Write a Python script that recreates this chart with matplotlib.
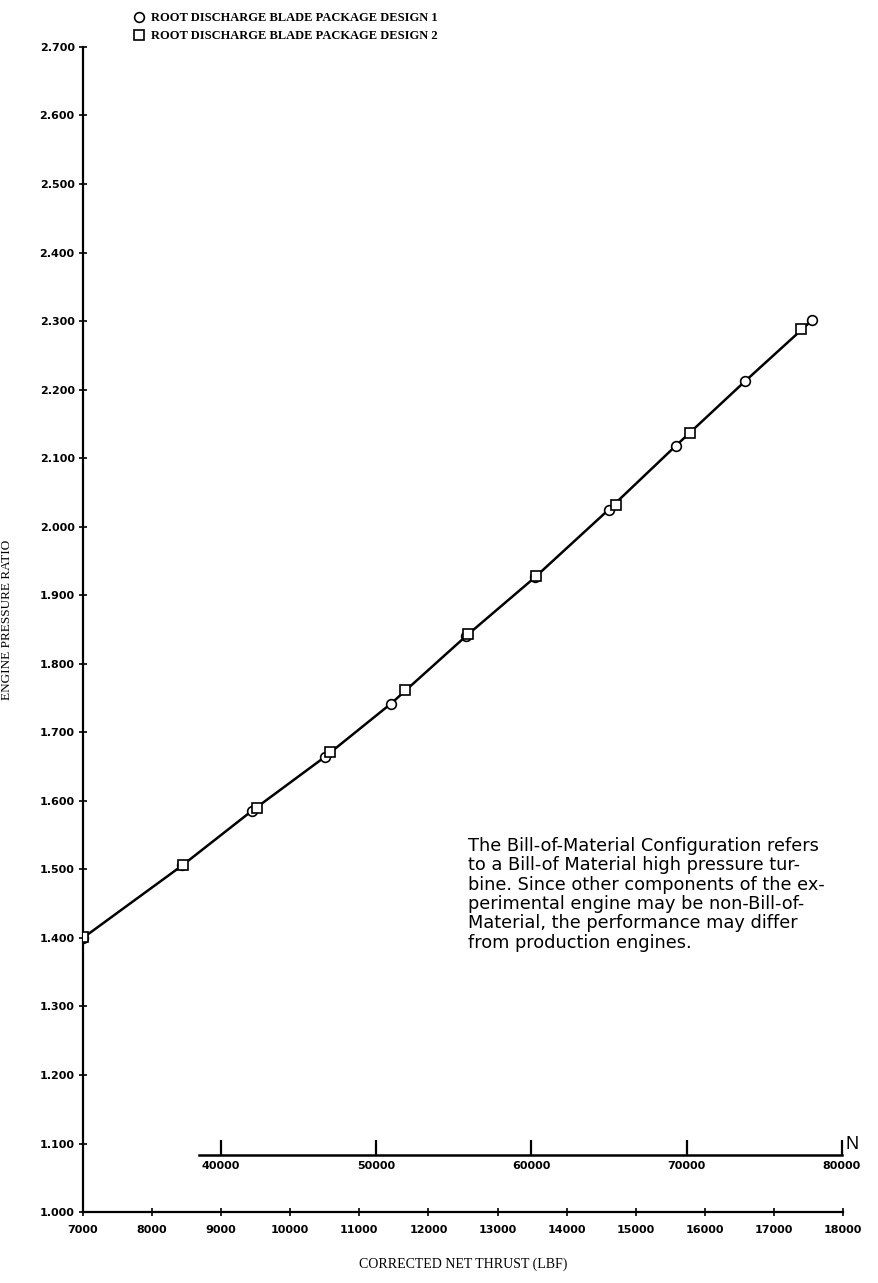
import matplotlib
matplotlib.use("Agg")
import matplotlib.pyplot as plt
import numpy as np

# Root discharge blade package design 1 (circles)
thrust_d1 = [7000, 8440, 9440, 10500, 11460, 12540, 13540, 14610, 15580, 16580, 17550]
epr_d1 = [1.400, 1.506, 1.585, 1.664, 1.742, 1.840, 1.926, 2.025, 2.118, 2.212, 2.301]

# Root discharge blade package design 2 (squares)
thrust_d2 = [7000, 8450, 9520, 10575, 11660, 12570, 13550, 14720, 15790, 17390]
epr_d2 = [1.402, 1.506, 1.589, 1.671, 1.761, 1.843, 1.928, 2.031, 2.136, 2.288]

x_ticks = list(range(7000, 18001, 1000))
y_ticks = [1.0 + 0.1 * i for i in range(18)]
newton_ticks = [40000, 50000, 60000, 70000, 80000]
LBF_TO_N = 4.44822

labels = ["ROOT DISCHARGE BLADE PACKAGE DESIGN 1",
          "ROOT DISCHARGE BLADE PACKAGE DESIGN 2"]
note = ("The Bill-of-Material Configuration refers\n"
        "to a Bill-of Material high pressure tur-\n"
        "bine. Since other components of the ex-\n"
        "perimental engine may be non-Bill-of-\n"
        "Material, the performance may differ\n"
        "from production engines.")

fig = plt.figure(figsize=(8.79, 12.83), dpi=100)
ax = fig.add_axes([0.0944, 0.0553, 0.8646, 0.9081])

ax.plot(thrust_d1, epr_d1, color="black", lw=1.8, zorder=2)
h1, = ax.plot(thrust_d1, epr_d1, ls="none", marker="o", ms=7, mfc="white",
              mec="black", mew=1.2, zorder=3)
h2, = ax.plot(thrust_d2, epr_d2, ls="none", marker="s", ms=7, mfc="white",
              mec="black", mew=1.2, zorder=3)

ax.set_xlim(7000, 18000)
ax.set_ylim(1.0, 2.7)
ax.set_xticks(x_ticks)
ax.set_xticklabels([str(v) for v in x_ticks])
ax.set_yticks(y_ticks)
ax.set_yticklabels([f"{v:.3f}" for v in y_ticks])
for s in ("top", "right"):
    ax.spines[s].set_visible(False)
for s in ("left", "bottom"):
    ax.spines[s].set_linewidth(1.6)
ax.tick_params(axis="both", direction="inout", length=6, width=1.2,
               labelsize=8, pad=3)
for lab in ax.get_xticklabels() + ax.get_yticklabels():
    lab.set_fontweight("bold")
ax.tick_params(axis="x", pad=6)

serif = {"family": "Liberation Serif", "size": 10}
ax.set_xlabel("CORRECTED NET THRUST (LBF)", fontdict=serif)
ax.xaxis.set_label_coords(0.5, -0.039)
ax.set_ylabel("ENGINE PRESSURE RATIO", fontdict={"family": "Liberation Serif", "size": 9.5})
ax.yaxis.set_label_coords(-0.092, 0.508)

# Secondary thrust scale in newtons
sec = ax.secondary_xaxis(0.049, functions=(lambda x: np.asarray(x) * LBF_TO_N,
                                           lambda n: np.asarray(n) / LBF_TO_N))
sec.set_xticks(newton_ticks)
sec.set_xticklabels([str(v) for v in newton_ticks])
sec.spines["bottom"].set_bounds(38600, 80000)
sec.spines["bottom"].set_linewidth(1.8)
sec.tick_params(direction="in", length=11, width=1.6, labelsize=8, pad=4)
for lab in sec.get_xticklabels():
    lab.set_fontweight("bold")
ax.text(1.003, 0.058, "N", transform=ax.transAxes, fontsize=13,
        family="Liberation Sans", ha="left", va="center")

ax.text(0.506, 0.322, note, transform=ax.transAxes, fontsize=12.8,
        family="DejaVu Sans", ha="left", va="top", linespacing=1.1)

fig.legend([h1, h2], labels, loc="upper left", bbox_to_anchor=(0.145, 0.9945),
           frameon=False, handletextpad=0.5, labelspacing=0.5,
           borderaxespad=0, handlelength=1.0,
           prop={"family": "Liberation Serif", "size": 9, "weight": "bold"})

fig.savefig("out.png", dpi=100, facecolor="white")
